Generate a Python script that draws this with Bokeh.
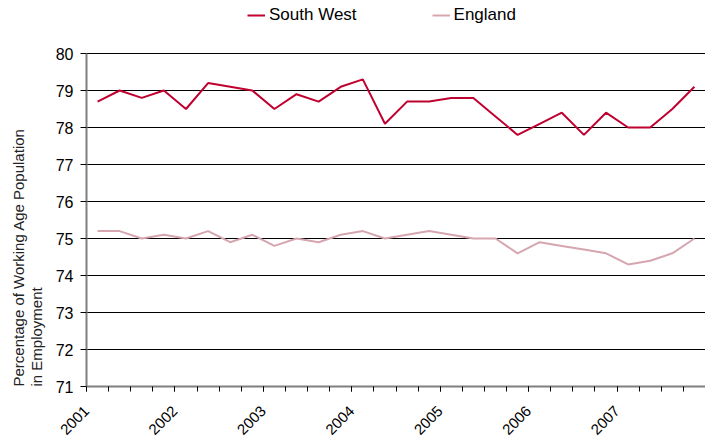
import numpy as np
from math import pi
from bokeh.plotting import figure
from bokeh.models import Range1d, FixedTicker, Legend, LegendItem, Title
from bokeh.embed import file_html
from bokeh.resources import INLINE

# ---- data (quarterly, 2001 Q1 .. 2007 Q4) ----
years = ["2001", "2002", "2003", "2004", "2005", "2006", "2007"]
quarters_per_year = 4
south_west = [78.7, 79.0, 78.8, 79.0, 78.5, 79.2, 79.1, 79.0,
              78.5, 78.9, 78.7, 79.1, 79.3, 78.1, 78.7, 78.7,
              78.8, 78.8, 78.3, 77.8, 78.1, 78.4, 77.8, 78.4,
              78.0, 78.0, 78.5, 79.1]
england = [75.2, 75.2, 75.0, 75.1, 75.0, 75.2, 74.9, 75.1,
           74.8, 75.0, 74.9, 75.1, 75.2, 75.0, 75.1, 75.2,
           75.1, 75.0, 75.0, 74.6, 74.9, 74.8, 74.7, 74.6,
           74.3, 74.4, 74.6, 75.0]
y_ticks = [71, 72, 73, 74, 75, 76, 77, 78, 79, 80]

n = len(south_west)
x = np.arange(n) + 0.5

FONT = "Liberation Sans"
SW_COLOR = "#C0002F"
EN_COLOR = "#D6A6B0"

# frame spans the whole top so that the legend can sit above the 80 line
PLOT_H = 443
BOTTOM = 57
TOP_PAD = 53  # pixels between figure top and the 80 gridline
frame_h = PLOT_H - BOTTOM
px_per_unit = (frame_h - TOP_PAD) / (max(y_ticks) - min(y_ticks))
y_top = max(y_ticks) + TOP_PAD / px_per_unit

p = figure(width=705, height=PLOT_H, output_backend="svg", toolbar_location=None,
           x_range=Range1d(0, n), y_range=Range1d(min(y_ticks), y_top),
           min_border_left=84, min_border_right=0, min_border_top=0,
           min_border_bottom=BOTTOM)
p.title.visible = False
p.outline_line_color = None
p.background_fill_color = "white"

r_sw = p.line(x, south_west, line_color=SW_COLOR, line_width=2)
r_en = p.line(x, england, line_color=EN_COLOR, line_width=2)

# x axis
major = [i * quarters_per_year for i in range(len(years))]
p.xaxis.ticker = FixedTicker(ticks=major, minor_ticks=list(range(n + 1)))
p.xaxis.major_label_overrides = {m: y for m, y in zip(major, years)}
p.xaxis.major_label_orientation = pi / 4
p.xaxis.major_label_text_font = FONT
p.xaxis.major_label_text_font_size = "15px"
p.xaxis.major_label_text_color = "black"
p.xaxis.major_label_standoff = 17
p.xaxis.axis_line_color = "#7f7f7f"
p.xaxis.axis_line_width = 2
p.xaxis.major_tick_in = 0
p.xaxis.major_tick_out = 5
p.xaxis.minor_tick_in = 0
p.xaxis.minor_tick_out = 5
p.xaxis.major_tick_line_color = "black"
p.xaxis.minor_tick_line_color = "black"
p.xgrid.visible = False

# y axis
p.yaxis.ticker = FixedTicker(ticks=y_ticks, minor_ticks=[])
p.yaxis.bounds = (min(y_ticks), max(y_ticks))
p.yaxis.major_label_text_font = FONT
p.yaxis.major_label_text_font_size = "16px"
p.yaxis.major_label_text_color = "black"
p.yaxis.major_label_standoff = 7
p.yaxis.axis_line_color = "#7f7f7f"
p.yaxis.axis_line_width = 2
p.yaxis.major_tick_in = 0
p.yaxis.major_tick_out = 6
p.yaxis.major_tick_line_color = "black"
p.yaxis.minor_tick_line_color = None
p.ygrid.grid_line_color = "black"
p.ygrid.grid_line_width = 1

# axis title (two left-aligned lines)
t = Title(text="Percentage of Working Age Population\nin Employment", align="left",
          text_font=FONT, text_font_size="15px", text_font_style="normal",
          text_color="#222222", text_line_height=1.05, standoff=15)
p.add_layout(t, "left")

# legend
legend = Legend(items=[LegendItem(label="South West", renderers=[r_sw]),
                       LegendItem(label="England", renderers=[r_en])],
                orientation="horizontal", location=(161, frame_h - 25),
                label_text_font=FONT, label_text_font_size="17px",
                label_text_color="black", glyph_width=18, glyph_height=20,
                label_standoff=4, spacing=75, padding=0, margin=0,
                border_line_color=None, background_fill_alpha=0)
p.add_layout(legend, "center")

open("out.html", "w").write(file_html(p, INLINE))
